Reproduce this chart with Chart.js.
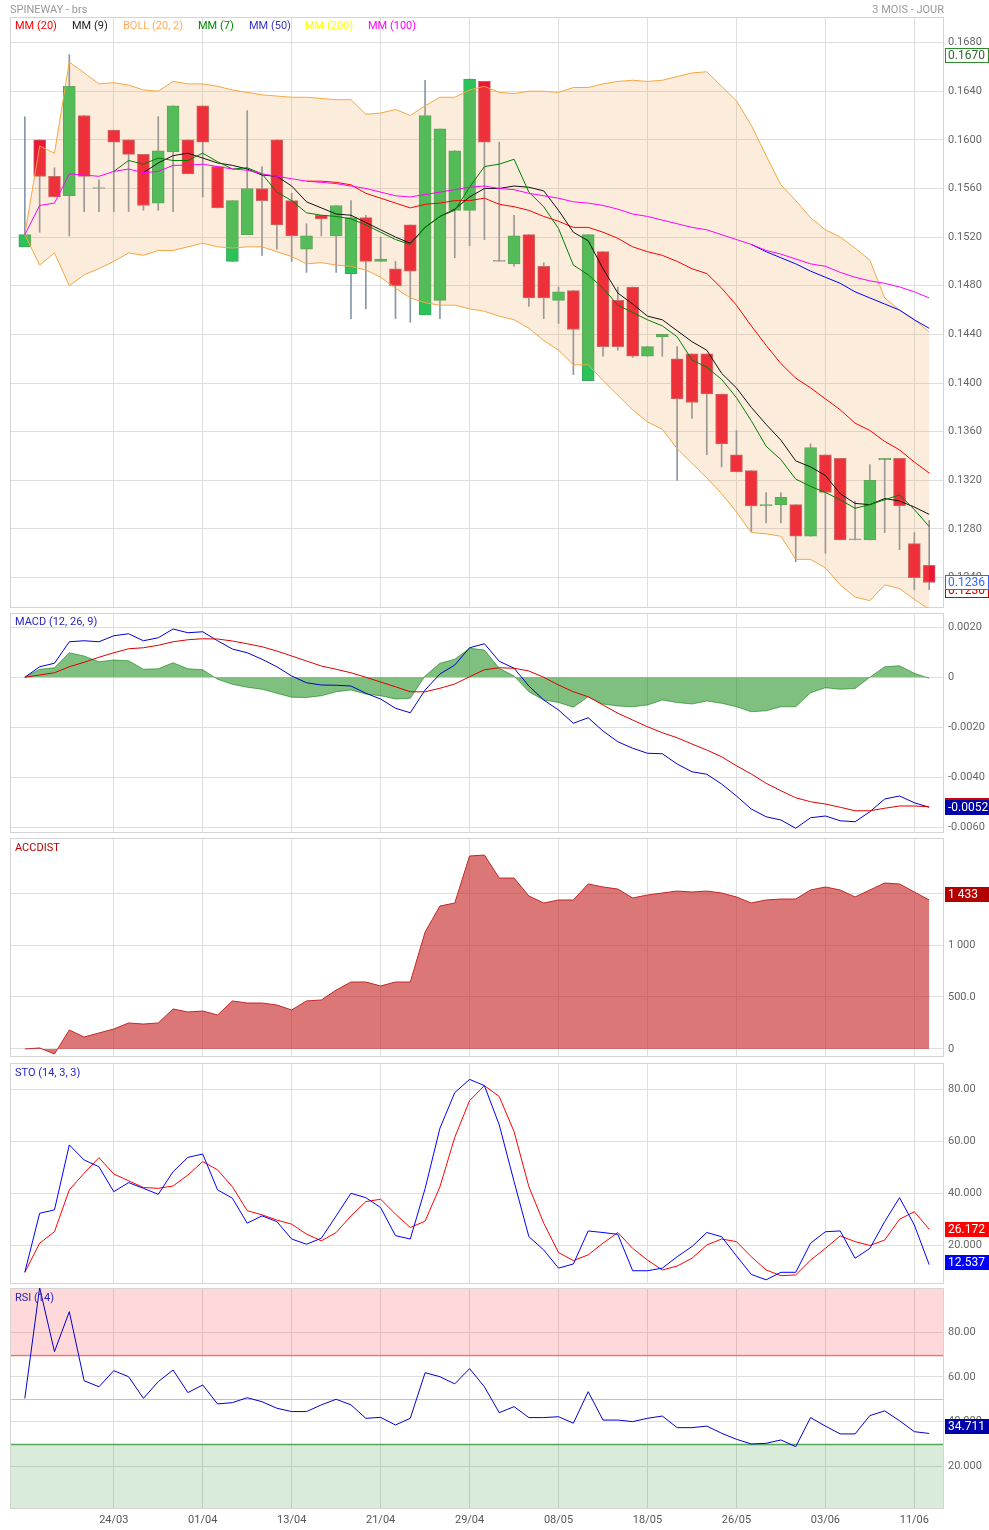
<!DOCTYPE html>
<html>
<head>
<meta charset="utf-8">
<title>SPINEWAY - brs</title>
<script src="https://cdn.jsdelivr.net/npm/chart.js@4.4.0/dist/chart.umd.min.js"></script>
<style>
  body { margin: 0; background: #fff; font-family: Roboto, "Liberation Sans", sans-serif; }
  #wrap { position: relative; width: 989px; height: 1530px; overflow: hidden; }
  canvas { position: absolute; left: 0; }
  .t { position: absolute; font-size: 11px; line-height: 13px; white-space: nowrap; }
</style>
</head>
<body>
<div id="wrap">
  <canvas id="mainChart"></canvas>
  <canvas id="macdChart"></canvas>
  <canvas id="accChart"></canvas>
  <canvas id="stoChart"></canvas>
  <canvas id="rsiChart"></canvas>

  <div class="t" style="left:10px;top:3px;color:#999">SPINEWAY - brs</div>
  <div class="t" style="right:45px;top:3px;color:#999">3 MOIS - JOUR</div>

  <div class="t" style="left:15px;top:19px;color:#ff0000">MM (20)</div>
  <div class="t" style="left:72px;top:19px;color:#222">MM (9)</div>
  <div class="t" style="left:123px;top:19px;color:#ffad5a">BOLL (20, 2)</div>
  <div class="t" style="left:198px;top:19px;color:#008a00">MM (7)</div>
  <div class="t" style="left:249px;top:19px;color:#3434c8">MM (50)</div>
  <div class="t" style="left:305px;top:19px;color:#ffff00">MM (200)</div>
  <div class="t" style="left:368px;top:19px;color:#ff00ff">MM (100)</div>

  <div class="t" style="left:15px;top:615px;color:#2626c0">MACD (12, 26, 9)</div>
  <div class="t" style="left:15px;top:841px;color:#c00000">ACCDIST</div>
  <div class="t" style="left:15px;top:1066px;color:#2626d0">STO (14, 3, 3)</div>
  <div class="t" style="left:15px;top:1291px;color:#2626c0">RSI (14)</div>
</div>
<script>
// x axis: one trading day per step, label every 6 days
var tickIdx = [6, 12, 18, 24, 30, 36, 42, 48, 54, 60];
var tickLabels = ['24/03', '01/04', '13/04', '21/04', '29/04', '08/05', '18/05', '26/05', '03/06', '11/06'];

// candles
var opens = [0.1512,0.1600,0.1570,0.1554,0.1620,0.1560,0.1608,0.1600,0.1588,0.1548,0.1590,0.1600,0.1628,0.1578,0.1500,0.1522,0.1560,0.1600,0.1550,0.1510,0.1538,0.1521,0.1490,0.1536,0.1500,0.1494,0.1530,0.1456,0.1468,0.1542,0.1542,0.1648,0.1500,0.1498,0.1522,0.1496,0.1468,0.1476,0.1402,0.1508,0.1468,0.1479,0.1422,0.1438,0.1420,0.1424,0.1424,0.1391,0.1341,0.1328,0.1299,0.1300,0.1300,0.1274,0.1341,0.1338,0.1271,0.1271,0.1337,0.1338,0.1268,0.1250];
var highs = [0.1619,0.1600,0.1577,0.1670,0.1620,0.1567,0.1608,0.1600,0.1588,0.1619,0.1628,0.1600,0.1628,0.1578,0.1550,0.1624,0.1578,0.1600,0.1556,0.1531,0.1538,0.1546,0.1550,0.1538,0.1520,0.1500,0.1530,0.1649,0.1609,0.1591,0.1650,0.1648,0.1598,0.1538,0.1522,0.1499,0.1479,0.1476,0.1522,0.1508,0.1479,0.1479,0.1430,0.1440,0.1430,0.1424,0.1424,0.1391,0.1361,0.1328,0.1310,0.1310,0.1300,0.1350,0.1341,0.1338,0.1303,0.1333,0.1338,0.1338,0.1277,0.1287];
var lows = [0.1512,0.1524,0.1553,0.1521,0.1541,0.1541,0.1541,0.1541,0.1542,0.1542,0.1541,0.1572,0.1553,0.1544,0.1500,0.1522,0.1505,0.1510,0.1500,0.1491,0.1521,0.1491,0.1453,0.1461,0.1500,0.1453,0.1450,0.1456,0.1453,0.1503,0.1513,0.1518,0.1500,0.1496,0.1463,0.1453,0.1449,0.1407,0.1402,0.1422,0.1427,0.1421,0.1422,0.1422,0.1320,0.1371,0.1341,0.1331,0.1327,0.1278,0.1285,0.1285,0.1253,0.1274,0.1260,0.1271,0.1271,0.1271,0.1277,0.1263,0.1230,0.1230];
var closes = [0.1522,0.1570,0.1553,0.1644,0.1570,0.1560,0.1598,0.1588,0.1546,0.1591,0.1628,0.1572,0.1598,0.1544,0.1550,0.1560,0.1550,0.1530,0.1521,0.1521,0.1535,0.1546,0.1536,0.1500,0.1502,0.1480,0.1492,0.1620,0.1609,0.1591,0.1650,0.1598,0.1500,0.1521,0.1470,0.1470,0.1475,0.1444,0.1522,0.1430,0.1430,0.1422,0.1430,0.1440,0.1387,0.1384,0.1391,0.1350,0.1327,0.1299,0.1300,0.1306,0.1274,0.1347,0.1310,0.1271,0.1271,0.1320,0.1338,0.1299,0.1240,0.1236];

// overlays (hidden under MM 100 before their own period)
var mm100 = [0.1522,0.1546,0.1548,0.1572,0.1571,0.1570,0.1574,0.1576,0.1573,0.1574,0.1579,0.1579,0.1580,0.1578,0.1576,0.1575,0.1572,0.1570,0.1568,0.1566,0.1565,0.1564,0.1562,0.1560,0.1557,0.1554,0.1553,0.1555,0.1557,0.1559,0.1561,0.1562,0.1560,0.1559,0.1556,0.1554,0.1552,0.1549,0.1548,0.1546,0.1543,0.1539,0.1537,0.1534,0.1531,0.1528,0.1526,0.1522,0.1518,0.1514,0.1509,0.1506,0.1502,0.1498,0.1496,0.1491,0.1487,0.1484,0.1482,0.1479,0.1475,0.1470];
var mm50 = Array(49).fill(null).concat([0.1514,0.1508,0.1503,0.1498,0.1492,0.1487,0.1482,0.1475,0.1470,0.1465,0.1460,0.1452,0.1445]);
var mm20 = Array(19).fill(null).concat([0.1566,0.1566,0.1565,0.1563,0.1556,0.1552,0.1548,0.1544,0.1547,0.1548,0.1550,0.1550,0.1552,0.1547,0.1545,0.1542,0.1537,0.1533,0.1528,0.1528,0.1524,0.1519,0.1512,0.1508,0.1505,0.1500,0.1494,0.1490,0.1478,0.1464,0.1447,0.1431,0.1416,0.1404,0.1396,0.1387,0.1378,0.1367,0.1361,0.1352,0.1345,0.1335,0.1326]);
var mm9 = Array(8).fill(null).concat([0.1573,0.1581,0.1587,0.1589,0.1585,0.1581,0.1579,0.1576,0.1571,0.1570,0.1562,0.1549,0.1544,0.1539,0.1538,0.1532,0.1526,0.1520,0.1515,0.1528,0.1537,0.1543,0.1553,0.1560,0.1560,0.1562,0.1561,0.1558,0.1542,0.1524,0.1517,0.1494,0.1474,0.1465,0.1455,0.1452,0.1443,0.1434,0.1427,0.1408,0.1396,0.1380,0.1366,0.1353,0.1336,0.1331,0.1324,0.1309,0.1301,0.1300,0.1305,0.1303,0.1298,0.1292]);
var mm7 = Array(6).fill(null).concat([0.1574,0.1583,0.1580,0.1585,0.1583,0.1583,0.1589,0.1582,0.1576,0.1577,0.1572,0.1557,0.1550,0.1540,0.1538,0.1537,0.1535,0.1530,0.1524,0.1518,0.1514,0.1528,0.1537,0.1542,0.1561,0.1578,0.1580,0.1584,0.1557,0.1545,0.1527,0.1497,0.1489,0.1478,0.1464,0.1458,0.1452,0.1447,0.1438,0.1419,0.1413,0.1403,0.1388,0.1369,0.1348,0.1337,0.1321,0.1315,0.1310,0.1304,0.1297,0.1300,0.1304,0.1308,0.1296,0.1282]);
var bollUp = [0.1522,0.1595,0.1589,0.1664,0.1655,0.1646,0.1647,0.1645,0.1641,0.1640,0.1648,0.1646,0.1646,0.1644,0.1641,0.1639,0.1637,0.1636,0.1635,0.1635,0.1634,0.1633,0.1633,0.1621,0.1622,0.1625,0.1620,0.1628,0.1635,0.1635,0.1641,0.1644,0.1639,0.1638,0.1640,0.1640,0.1639,0.1643,0.1643,0.1646,0.1648,0.1649,0.1648,0.1649,0.1652,0.1655,0.1656,0.1644,0.1632,0.1612,0.1587,0.1563,0.1550,0.1536,0.1526,0.1520,0.1511,0.1501,0.1470,0.1460,0.1452,0.1442];
var bollLo = [0.1522,0.1497,0.1507,0.1480,0.1489,0.1494,0.1500,0.1507,0.1505,0.1509,0.1509,0.1512,0.1515,0.1512,0.1511,0.1512,0.1512,0.1508,0.1504,0.1498,0.1499,0.1497,0.1496,0.1493,0.1487,0.1478,0.1470,0.1466,0.1464,0.1464,0.1461,0.1459,0.1455,0.1452,0.1445,0.1435,0.1427,0.1415,0.1415,0.1402,0.1390,0.1378,0.1368,0.1362,0.1346,0.1334,0.1322,0.1309,0.1294,0.1277,0.1276,0.1274,0.1255,0.1255,0.1248,0.1234,0.1224,0.1221,0.1234,0.1231,0.1222,0.1214];

// MACD (12, 26, 9)
var macd = [0,0.00042,0.00056,0.00142,0.00146,0.00142,0.00166,0.00174,0.00146,0.00158,0.00193,0.00178,0.00182,0.00146,0.00113,0.00098,0.00072,0.00042,0.00005,-0.00022,-0.00031,-0.00032,-0.00035,-0.00064,-0.00087,-0.00124,-0.00142,-0.00051,0.00013,0.00049,0.00118,0.00134,0.00064,0.00036,-0.00035,-0.00091,-0.00131,-0.00184,-0.00162,-0.00215,-0.00258,-0.00284,-0.00304,-0.00306,-0.00347,-0.00378,-0.00388,-0.00427,-0.00475,-0.00527,-0.00558,-0.00571,-0.00604,-0.00562,-0.00555,-0.00574,-0.00578,-0.00538,-0.00487,-0.00475,-0.00502,-0.0052];
var signal = [0,0.00009,0.00018,0.00042,0.0006,0.0008,0.00098,0.00114,0.00118,0.00128,0.00142,0.0015,0.00154,0.00153,0.00145,0.00134,0.00122,0.00105,0.00085,0.00065,0.00045,0.00032,0.00018,0,-0.00019,-0.00038,-0.00058,-0.00058,-0.00044,-0.00027,0.00002,0.0003,0.00038,0.00036,0.00025,0,-0.00031,-0.00058,-0.00078,-0.00111,-0.00144,-0.00171,-0.00198,-0.00222,-0.00242,-0.00267,-0.00291,-0.00318,-0.00354,-0.00387,-0.00424,-0.00454,-0.00482,-0.00498,-0.00507,-0.0052,-0.00534,-0.00534,-0.00524,-0.00515,-0.00515,-0.00518];
var hist = [0,0.00032,0.00038,0.00098,0.00085,0.00062,0.00069,0.00066,0.00032,0.00034,0.00058,0.00034,0.0003,-0.00008,-0.00028,-0.0004,-0.00048,-0.00064,-0.0008,-0.00081,-0.00074,-0.00058,-0.00051,-0.00067,-0.00074,-0.00087,-0.00084,0.00005,0.00056,0.00072,0.00116,0.00109,0.00036,0.00005,-0.00058,-0.00091,-0.00101,-0.0012,-0.00078,-0.00107,-0.00115,-0.00118,-0.00111,-0.00091,-0.00101,-0.00107,-0.00095,-0.00104,-0.00118,-0.00138,-0.00134,-0.00118,-0.00118,-0.00062,-0.00042,-0.00048,-0.00045,0,0.00042,0.00046,0.00016,-0.00004];

// ACCDIST
var accdist = [0,10,-48,183,115,154,192,250,240,250,385,356,365,327,462,442,442,423,375,462,471,567,644,644,606,644,644,1125,1375,1404,1856,1865,1644,1644,1471,1404,1433,1433,1587,1558,1538,1452,1481,1500,1519,1510,1519,1500,1462,1404,1433,1442,1442,1529,1558,1529,1462,1529,1596,1587,1510,1433];

// STO (14, 3, 3)
var stoK = [9.6,32.3,33.6,58.6,52.8,50.2,40.6,44.1,41.9,39.6,48.3,53.8,55.1,41.3,38.1,28.5,31.3,29.1,22.4,20.4,22.7,31.3,40,38.3,34.5,23.7,22.4,41.8,65,78.7,83.8,81.4,66.3,44.5,23.3,18.2,11.2,12.8,25.5,24.9,24.2,10.2,10.2,11.2,15.6,19.5,24.9,23.3,15.9,8.8,6.7,9.6,9.6,20.8,25.2,25.5,15,18.8,29.1,38.3,27.8,12.537];
var stoD = [9.6,20.8,25.2,41.3,47.7,53.7,47.4,44.8,42.2,41.9,42.8,47,52.2,49,42.5,33.3,31.7,29.7,28.1,24.3,21.7,24.9,31.3,36.8,37.7,32,26.8,29.3,42.5,61.5,75.6,81.4,77.2,63.7,42.5,28.5,17.2,14.1,16.3,20.8,24.9,18.8,14.3,10.5,12,15,20.1,22.4,21.4,15.6,10.5,8.3,8.6,14.3,18.8,23.6,21.4,19.9,22,30,32.9,26.172];

// RSI (14)
var rsi = [50.4,100,71.3,89.2,58.3,55.6,62.8,60.1,50.4,57.9,63.1,53,56.4,47.9,48.5,50.7,48.9,46,44.5,44.5,47.5,50,47.5,41.5,41.9,38.5,41.5,61.9,60.1,56.9,63.7,55.6,44,46.7,41.8,41.8,42.2,39.3,53.4,40.7,40.7,40,41.5,42.5,37.3,37.3,38,34.8,32.1,30,30.3,31.8,28.8,41.8,38,34.5,34.5,42.7,44.8,40.4,35.5,34.711];
var rsiLevels = [30, 50, 70];

// y ticks
var priceTicks = [0.124, 0.128, 0.132, 0.136, 0.140, 0.144, 0.148, 0.152, 0.156, 0.160, 0.164, 0.168];
var macdTicks = [-0.006, -0.004, -0.002, 0, 0.002];
var accTicks = [0, 500, 1000, 1500];
var accTickLabels = ['0', '500.0', '1 000', '1 500'];
var oscTicks = [20, 40, 60, 80];
var oscTickLabels = ['20.000', '40.000', '60.00', '80.00'];

var idx = closes.map(function (_, i) { return i; });
var last = function (a) { return a[a.length - 1]; };

Chart.defaults.font.family = 'Roboto, "Liberation Sans", sans-serif';
Chart.defaults.font.size = 11;
Chart.defaults.color = '#666';
var gridColor = '#dedede';

function xScale(showLabels) {
    return {
        type: 'linear', min: -1, max: 62, offset: false,
        grid: { color: gridColor, drawTicks: false, offset: false },
        border: { display: false },
        ticks: {
            display: showLabels, padding: 5, color: '#555', autoSkip: false, maxRotation: 0,
            callback: function (v, i) { return tickLabels[i]; }
        },
        afterBuildTicks: function (s) { s.ticks = tickIdx.map(function (v) { return { value: v }; }); },
        afterFit: function (s) { s.height = showLabels ? 21 : 0; s.paddingLeft = 0; s.paddingRight = 0; }
    };
}

function yScale(min, max, ticks, fmt) {
    return {
        position: 'right', min: min, max: max,
        grid: { color: gridColor, drawTicks: false },
        border: { display: false },
        ticks: { padding: 4, color: '#666', autoSkip: false, callback: fmt },
        afterBuildTicks: function (s) { s.ticks = ticks.map(function (v) { return { value: v }; }); },
        afterFit: function (s) { s.width = 45; s.paddingTop = 0; s.paddingBottom = 0; }
    };
}

// panel frame, shaded zones and level lines
function framePlugin(bands, levels) {
    return {
        id: 'frame',
        beforeDatasetsDraw: function (chart) {
            var ctx = chart.ctx, a = chart.chartArea, y = chart.scales.y;
            ctx.save();
            bands.forEach(function (b) {
                var y1 = y.getPixelForValue(Math.min(b.to, y.max));
                var y2 = y.getPixelForValue(Math.max(b.from, y.min));
                ctx.fillStyle = b.color;
                ctx.fillRect(a.left, y1, a.width, y2 - y1);
            });
            levels.forEach(function (l) {
                var py = Math.round(y.getPixelForValue(l.value)) + 0.5;
                ctx.strokeStyle = l.color;
                ctx.lineWidth = l.width || 1;
                ctx.beginPath(); ctx.moveTo(a.left, py); ctx.lineTo(a.right, py); ctx.stroke();
            });
            ctx.strokeStyle = '#d4d4d4';
            ctx.lineWidth = 1;
            ctx.strokeRect(a.left + 0.5, a.top + 0.5, a.width - 1, a.height - 1);
            ctx.restore();
        }
    };
}

// last-value boxes on the right axis
function boxPlugin(items) {
    return {
        id: 'valueBoxes',
        afterDraw: function (chart) {
            var ctx = chart.ctx, y = chart.scales.y;
            items.forEach(function (b) {
                var py = Math.round(y.getPixelForValue(b.value) + (b.dy || 0));
                ctx.save();
                ctx.fillStyle = b.bg;
                ctx.fillRect(945, py - 7, 44, 15);
                if (b.border) {
                    ctx.strokeStyle = b.border;
                    ctx.lineWidth = 1;
                    ctx.strokeRect(945.5, py - 6.5, 43, 14);
                }
                ctx.fillStyle = b.color;
                ctx.font = '12px Roboto, "Liberation Sans", sans-serif';
                ctx.textBaseline = 'middle';
                ctx.fillText(b.text, 948, py + 1);
                ctx.restore();
            });
        }
    };
}

function makeChart(id, top, height, padBottom, datasets, y, showX, bands, levels, boxes) {
    var cv = document.getElementById(id);
    cv.width = 989; cv.height = height;
    cv.style.top = top + 'px';
    return new Chart(cv, {
        type: 'line',
        data: { labels: idx, datasets: datasets },
        options: {
            responsive: false, animation: false, devicePixelRatio: 1, events: [],
            layout: { padding: { left: 10, right: 0, top: 8, bottom: padBottom } },
            scales: { x: xScale(showX), y: y },
            plugins: { legend: { display: false }, tooltip: { enabled: false } },
            elements: { point: { radius: 0 }, line: { tension: 0, borderWidth: 1 } }
        },
        plugins: [framePlugin(bands, levels), boxPlugin(boxes)]
    });
}

function line(data, color, order, extra) {
    return Object.assign({ data: data, borderColor: color, borderWidth: 1, pointRadius: 0, fill: false, order: order }, extra || {});
}

var bodyColor = opens.map(function (o, i) { return closes[i] > o ? '#2cc25a' : (closes[i] < o ? '#ee1435' : '#8796a8'); });
var bodyBorder = opens.map(function (o, i) { return closes[i] > o ? '#3aa85a' : (closes[i] < o ? '#c0606c' : '#8796a8'); });
var fmtPrice = function (v) { return v.toFixed(4); };
var thousands = function (v) { return String(v).replace(/\B(?=(\d{3})+(?!\d))/g, ' '); };

// main price panel
makeChart('mainChart', 9, 607, 8, [
    line(bollUp, '#f5a742', 7, { fill: '+1', backgroundColor: 'rgba(240,160,80,0.2)' }),
    line(bollLo, '#f5a742', 8),
    { type: 'bar', data: lows.map(function (l, i) { return [l, highs[i]]; }), backgroundColor: '#8796a8',
      barThickness: 1, grouped: false, order: 10 },
    { type: 'bar', data: opens.map(function (o, i) { return [o, closes[i]]; }), backgroundColor: bodyColor,
      borderColor: bodyBorder, borderWidth: 1, borderSkipped: false, minBarLength: 1,
      barThickness: 12, grouped: false, order: 9 },
    line(mm20, '#ff0000', 6),
    line(mm9, '#111111', 5),
    line(mm7, '#008000', 4),
    line(mm50, '#0000ff', 3),
    line(mm100, '#ff00ff', 2)
], yScale(0.1215, 0.1701, priceTicks, fmtPrice), false, [], [], [
    { value: Math.min.apply(null, lows), text: fmtPrice(Math.min.apply(null, lows)), bg: '#fff', border: '#cc0000', color: '#cc0000' },
    { value: last(closes), text: fmtPrice(last(closes)), bg: '#fff', border: '#3366ff', color: '#3366ff' },
    { value: Math.max.apply(null, highs), text: fmtPrice(Math.max.apply(null, highs)), bg: '#fff', border: '#2e8b2e', color: '#2e6b2e' }
]);

// MACD panel
makeChart('macdChart', 605, 236, 8, [
    line(hist, 'rgba(0,120,0,0.55)', 3, { fill: 'origin', backgroundColor: 'rgba(0,128,0,0.5)' }),
    line(macd, '#0000cc', 2),
    line(signal, '#dd0000', 1)
], yScale(-0.00623, 0.00257, macdTicks, function (v) { return v === 0 ? '0' : v.toFixed(4); }), false, [], [], [
    { value: last(signal), text: last(signal).toFixed(4), bg: '#cc0000', color: '#fff', dy: -2 },
    { value: last(macd), text: last(macd).toFixed(4), bg: '#0000aa', color: '#fff' }
]);

// ACCDIST panel
makeChart('accChart', 830, 235, 8, [
    line(accdist, '#c02828', 1, { fill: 'origin', backgroundColor: 'rgba(200,40,40,0.63)' })
], yScale(-77, 2029, accTicks, function (v, i) { return accTickLabels[i]; }), false, [], [], [
    { value: last(accdist), text: thousands(last(accdist)), bg: '#b30000', color: '#fff', dy: -6 }
]);

// STO panel
makeChart('stoChart', 1055, 237, 8, [
    line(stoD, '#ff0000', 2),
    line(stoK, '#0000ff', 1)
], yScale(5.1, 90.1, oscTicks, function (v, i) { return oscTickLabels[i]; }), false, [], [], [
    { value: last(stoD), text: last(stoD).toFixed(3), bg: '#ff0000', color: '#fff' },
    { value: last(stoK), text: last(stoK).toFixed(3), bg: '#0000ff', color: '#fff', dy: -3 }
]);

// RSI panel
makeChart('rsiChart', 1280, 250, 0, [
    line(rsi, '#0000cc', 1)
], yScale(0.9, 99.8, oscTicks, function (v, i) { return oscTickLabels[i]; }), true, [
    { from: rsiLevels[2], to: 100, color: 'rgba(255,0,0,0.15)' },
    { from: 0, to: rsiLevels[0], color: 'rgba(0,128,0,0.15)' }
], [
    { value: rsiLevels[2], color: '#f07070', width: 1.5 },
    { value: rsiLevels[1], color: '#a8c8f0' },
    { value: rsiLevels[0], color: '#5aa55a', width: 1.5 }
], [
    { value: last(rsi), text: last(rsi).toFixed(3), bg: '#0000aa', color: '#fff', dy: -7 }
]);
</script>
</body>
</html>
